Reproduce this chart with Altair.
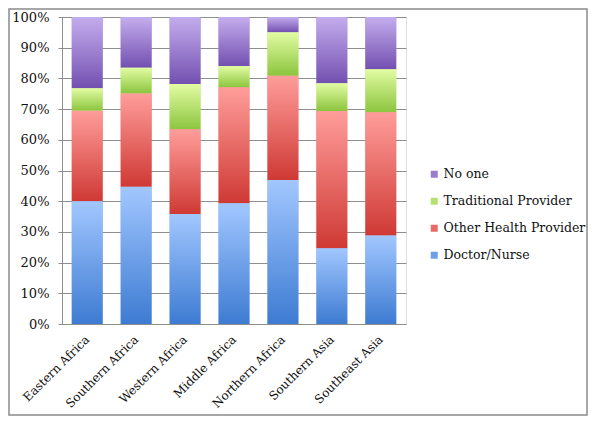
import altair as alt
import pandas as pd

regions = ["Eastern Africa", "Southern Africa", "Western Africa", "Middle Africa",
           "Northern Africa", "Southern Asia", "Southeast Asia"]
series = ["No one", "Traditional Provider", "Other Health Provider", "Doctor/Nurse"]
doctor = [40.0, 44.7, 35.8, 39.3, 46.9, 24.7, 28.8]
other = [29.5, 30.4, 27.6, 37.8, 34.0, 44.7, 40.2]
traditional = [7.3, 8.4, 14.8, 6.9, 14.1, 9.0, 14.0]
noone = [23.2, 16.5, 21.8, 16.0, 5.0, 21.6, 17.0]
y_ticks = [0, 10, 20, 30, 40, 50, 60, 70, 80, 90, 100]

solid = ["#9a7ccf", "#b6e070", "#e86a66", "#6d9fe6"]
grad_top = ["#c4adee", "#e2fca3", "#ff9d9a", "#a2c7ff"]
grad_bot = ["#7350b0", "#8cc53e", "#cf3934", "#3d7bd2"]

rows = []
for s, vals, rank in [("Doctor/Nurse", doctor, 0), ("Other Health Provider", other, 1),
                      ("Traditional Provider", traditional, 2), ("No one", noone, 3)]:
    for r, v in zip(regions, vals):
        rows.append({"region": r, "series": s, "value": v, "rank": rank})
df = pd.DataFrame(rows)

FONT = "DejaVu Serif"
GRID = "#8e8e8e"

x_enc = alt.X("region:N", sort=regions, title=None,
              scale=alt.Scale(paddingInner=0.37, paddingOuter=0.2),
              axis=alt.Axis(labelAngle=315, labelAlign="right", labelBaseline="middle",
                            labelFont=FONT, labelFontSize=12, labelColor="#111",
                            labelPadding=13, ticks=False, domainColor=GRID, grid=False,
                            labelOverlap=False))
y_enc = alt.Y("y0:Q", title=None, scale=alt.Scale(domain=[0, 100], nice=False),
              axis=alt.Axis(values=y_ticks, labelExpr="datum.value + '%'",
                            labelFont=FONT, labelFontSize=13, labelColor="#111",
                            grid=True, gridColor=GRID, gridOpacity=1, tickColor=GRID,
                            tickSize=4, domainColor=GRID, labelPadding=9,
                            labelOverlap=False))

base = alt.Chart(df).transform_stack(
    stack="value", as_=["y0", "y1"], groupby=["region"],
    sort=[alt.SortField("rank", order="ascending")]
)

solid_layer = base.mark_bar().encode(
    x=x_enc, y=y_enc, y2="y1:Q",
    color=alt.Color("series:N", scale=alt.Scale(domain=series, range=solid),
                    legend=alt.Legend(orient="none", legendX=366, legendY=151, title=None,
                                      labelFont=FONT, labelFontSize=12.5, labelColor="#111",
                                      symbolType="square", symbolSize=49, symbolStrokeWidth=0,
                                      rowPadding=14, padding=0, labelOffset=3)),
)

layers = [solid_layer]
for s, t, b in zip(series, grad_top, grad_bot):
    g = alt.LinearGradient(gradient="linear", x1=0, y1=0, x2=0, y2=1,
                           stops=[alt.GradientStop(color=t, offset=0),
                                  alt.GradientStop(color=b, offset=1)])
    layers.append(
        base.transform_filter(alt.datum.series == s).mark_bar(fill=g).encode(
            x=x_enc, y=y_enc, y2="y1:Q",
        )
    )

frame = alt.Chart(alt.Data(values=[{"a": 1}])).mark_rect(
    fill="transparent", stroke="#8a8a8a", strokeWidth=1.5
).encode(x=alt.value(-53), x2=alt.value(525), y=alt.value(-8), y2=alt.value(398))
layers.append(frame)

chart = alt.layer(*layers).properties(
    width=344, height=307,
    autosize=alt.AutoSizeParams(type="none"),
    padding={"left": 54, "top": 9, "right": 182, "bottom": 92},
).configure_view(stroke=None).configure(background="white")

chart.save("out.html", embed_options={"renderer": "svg", "actions": False})
